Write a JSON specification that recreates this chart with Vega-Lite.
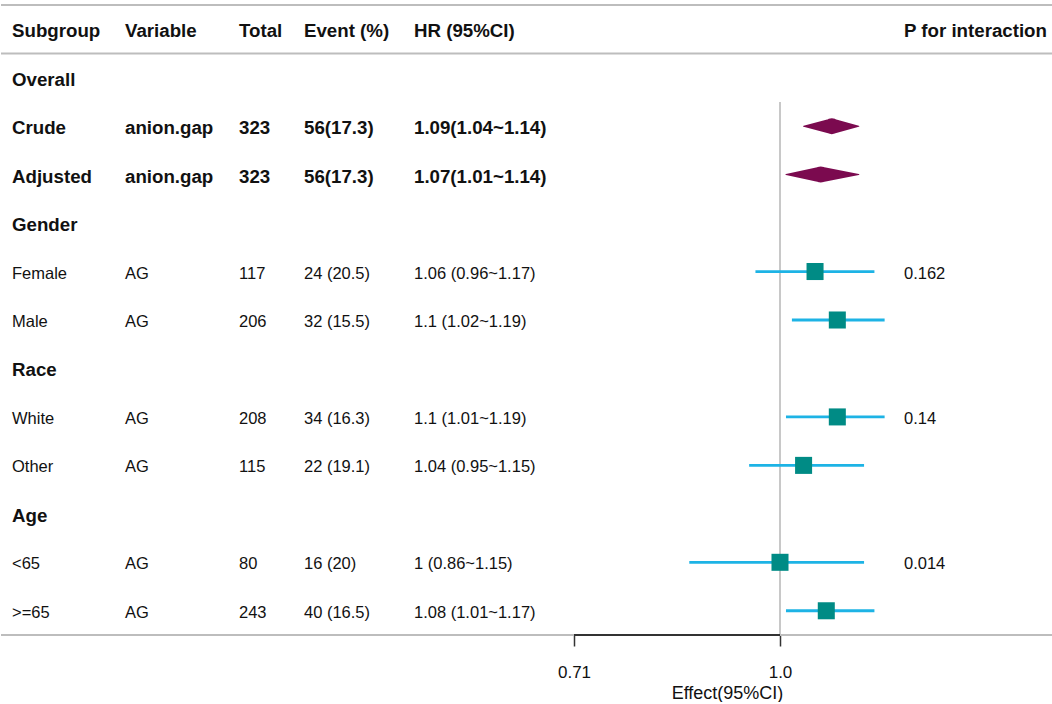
{
  "$schema": "https://vega.github.io/schema/vega-lite/v6.json",
  "padding": {"left": 0, "top": 4, "right": 0, "bottom": 0},
  "spacing": 0,
  "bounds": "flush",
  "background": "white",
  "config": {"view": {"stroke": null}, "font": "Liberation Sans"},
  "data": {"values": [
    {"Subgroup": "Subgroup", "Variable": "Variable", "Total": "Total", "Event": "Event (%)", "HR": "HR (95%CI)", "P": "P for interaction", "kind": "header"},
    {"Subgroup": "Overall", "kind": "group"},
    {"Subgroup": "Crude", "Variable": "anion.gap", "Total": 323, "Event": "56(17.3)", "HR": "1.09(1.04~1.14)", "hr": 1.09, "lo": 1.04, "hi": 1.14, "kind": "overall"},
    {"Subgroup": "Adjusted", "Variable": "anion.gap", "Total": 323, "Event": "56(17.3)", "HR": "1.07(1.01~1.14)", "hr": 1.07, "lo": 1.01, "hi": 1.14, "kind": "overall"},
    {"Subgroup": "Gender", "kind": "group"},
    {"Subgroup": "Female", "Variable": "AG", "Total": 117, "Event": "24 (20.5)", "HR": "1.06 (0.96~1.17)", "hr": 1.06, "lo": 0.96, "hi": 1.17, "P": "0.162", "kind": "sub"},
    {"Subgroup": "Male", "Variable": "AG", "Total": 206, "Event": "32 (15.5)", "HR": "1.1 (1.02~1.19)", "hr": 1.1, "lo": 1.02, "hi": 1.19, "kind": "sub"},
    {"Subgroup": "Race", "kind": "group"},
    {"Subgroup": "White", "Variable": "AG", "Total": 208, "Event": "34 (16.3)", "HR": "1.1 (1.01~1.19)", "hr": 1.1, "lo": 1.01, "hi": 1.19, "P": "0.14", "kind": "sub"},
    {"Subgroup": "Other", "Variable": "AG", "Total": 115, "Event": "22 (19.1)", "HR": "1.04 (0.95~1.15)", "hr": 1.04, "lo": 0.95, "hi": 1.15, "kind": "sub"},
    {"Subgroup": "Age", "kind": "group"},
    {"Subgroup": "<65", "Variable": "AG", "Total": 80, "Event": "16 (20)", "HR": "1 (0.86~1.15)", "hr": 1, "lo": 0.86, "hi": 1.15, "P": "0.014", "kind": "sub"},
    {"Subgroup": ">=65", "Variable": "AG", "Total": 243, "Event": "40 (16.5)", "HR": "1.08 (1.01~1.17)", "hr": 1.08, "lo": 1.01, "hi": 1.17, "kind": "sub"}
  ]},
  "hconcat": [
    {
      "width": 113, "height": 630,
      "layer": [
        {"transform": [{"filter": "datum.kind === 'header'"}], "mark": {"type": "rule", "color": "#BDBDBD", "strokeWidth": 2}, "encoding": {"y": {"field": "Subgroup", "type": "nominal", "bandPosition": 0, "scale": {"type": "band", "domain": ["Subgroup","Overall","Crude","Adjusted","Gender","Female","Male","Race","White","Other","Age","<65",">=65"], "paddingInner": 0, "paddingOuter": 0}, "axis": null}}},
        {"transform": [{"filter": "datum.kind === 'header'"}], "mark": {"type": "rule", "color": "#BDBDBD", "strokeWidth": 2}, "encoding": {"y": {"field": "Subgroup", "type": "nominal", "bandPosition": 1, "axis": null}}},
        {"transform": [{"filter": "datum.Subgroup === '>=65'"}], "mark": {"type": "rule", "color": "#BDBDBD", "strokeWidth": 2}, "encoding": {"y": {"field": "Subgroup", "type": "nominal", "bandPosition": 1, "axis": null}}},
        {"transform": [{"filter": "isValid(datum.Subgroup) && datum.kind !== 'sub'"}], "mark": {"type": "text", "align": "left", "baseline": "middle", "dx": 11, "dy": 2, "color": "#111111", "fontWeight": "bold", "fontSize": 18.7},
          "encoding": {
            "x": {"datum": "c", "type": "nominal", "scale": {"type": "band", "paddingInner": 0, "paddingOuter": 0}, "bandPosition": 0, "axis": null},
            "y": {"field": "Subgroup", "type": "nominal", "axis": null},
            "text": {"field": "Subgroup", "type": "nominal"}
          }},
        {"transform": [{"filter": "isValid(datum.Subgroup) && datum.kind === 'sub'"}], "mark": {"type": "text", "align": "left", "baseline": "middle", "dx": 11, "dy": 2, "color": "#111111", "fontWeight": "normal", "fontSize": 16.5},
          "encoding": {
            "x": {"datum": "c", "type": "nominal", "bandPosition": 0, "axis": null},
            "y": {"field": "Subgroup", "type": "nominal", "axis": null},
            "text": {"field": "Subgroup", "type": "nominal"}
          }}
      ]
    },
    {
      "width": 114, "height": 630,
      "layer": [
        {"transform": [{"filter": "datum.kind === 'header'"}], "mark": {"type": "rule", "color": "#BDBDBD", "strokeWidth": 2}, "encoding": {"y": {"field": "Subgroup", "type": "nominal", "bandPosition": 0, "scale": {"type": "band", "domain": ["Subgroup","Overall","Crude","Adjusted","Gender","Female","Male","Race","White","Other","Age","<65",">=65"], "paddingInner": 0, "paddingOuter": 0}, "axis": null}}},
        {"transform": [{"filter": "datum.kind === 'header'"}], "mark": {"type": "rule", "color": "#BDBDBD", "strokeWidth": 2}, "encoding": {"y": {"field": "Subgroup", "type": "nominal", "bandPosition": 1, "axis": null}}},
        {"transform": [{"filter": "datum.Subgroup === '>=65'"}], "mark": {"type": "rule", "color": "#BDBDBD", "strokeWidth": 2}, "encoding": {"y": {"field": "Subgroup", "type": "nominal", "bandPosition": 1, "axis": null}}},
        {"transform": [{"filter": "isValid(datum.Variable) && datum.kind !== 'sub'"}], "mark": {"type": "text", "align": "left", "baseline": "middle", "dx": 11, "dy": 2, "color": "#111111", "fontWeight": "bold", "fontSize": 18.7},
          "encoding": {
            "x": {"datum": "c", "type": "nominal", "scale": {"type": "band", "paddingInner": 0, "paddingOuter": 0}, "bandPosition": 0, "axis": null},
            "y": {"field": "Subgroup", "type": "nominal", "axis": null},
            "text": {"field": "Variable", "type": "nominal"}
          }},
        {"transform": [{"filter": "isValid(datum.Variable) && datum.kind === 'sub'"}], "mark": {"type": "text", "align": "left", "baseline": "middle", "dx": 11, "dy": 2, "color": "#111111", "fontWeight": "normal", "fontSize": 16.5},
          "encoding": {
            "x": {"datum": "c", "type": "nominal", "bandPosition": 0, "axis": null},
            "y": {"field": "Subgroup", "type": "nominal", "axis": null},
            "text": {"field": "Variable", "type": "nominal"}
          }}
      ]
    },
    {
      "width": 65, "height": 630,
      "layer": [
        {"transform": [{"filter": "datum.kind === 'header'"}], "mark": {"type": "rule", "color": "#BDBDBD", "strokeWidth": 2}, "encoding": {"y": {"field": "Subgroup", "type": "nominal", "bandPosition": 0, "scale": {"type": "band", "domain": ["Subgroup","Overall","Crude","Adjusted","Gender","Female","Male","Race","White","Other","Age","<65",">=65"], "paddingInner": 0, "paddingOuter": 0}, "axis": null}}},
        {"transform": [{"filter": "datum.kind === 'header'"}], "mark": {"type": "rule", "color": "#BDBDBD", "strokeWidth": 2}, "encoding": {"y": {"field": "Subgroup", "type": "nominal", "bandPosition": 1, "axis": null}}},
        {"transform": [{"filter": "datum.Subgroup === '>=65'"}], "mark": {"type": "rule", "color": "#BDBDBD", "strokeWidth": 2}, "encoding": {"y": {"field": "Subgroup", "type": "nominal", "bandPosition": 1, "axis": null}}},
        {"transform": [{"filter": "isValid(datum.Total) && datum.kind !== 'sub'"}], "mark": {"type": "text", "align": "left", "baseline": "middle", "dx": 11, "dy": 2, "color": "#111111", "fontWeight": "bold", "fontSize": 18.7},
          "encoding": {
            "x": {"datum": "c", "type": "nominal", "scale": {"type": "band", "paddingInner": 0, "paddingOuter": 0}, "bandPosition": 0, "axis": null},
            "y": {"field": "Subgroup", "type": "nominal", "axis": null},
            "text": {"field": "Total", "type": "nominal"}
          }},
        {"transform": [{"filter": "isValid(datum.Total) && datum.kind === 'sub'"}], "mark": {"type": "text", "align": "left", "baseline": "middle", "dx": 11, "dy": 2, "color": "#111111", "fontWeight": "normal", "fontSize": 16.5},
          "encoding": {
            "x": {"datum": "c", "type": "nominal", "bandPosition": 0, "axis": null},
            "y": {"field": "Subgroup", "type": "nominal", "axis": null},
            "text": {"field": "Total", "type": "nominal"}
          }}
      ]
    },
    {
      "width": 110, "height": 630,
      "layer": [
        {"transform": [{"filter": "datum.kind === 'header'"}], "mark": {"type": "rule", "color": "#BDBDBD", "strokeWidth": 2}, "encoding": {"y": {"field": "Subgroup", "type": "nominal", "bandPosition": 0, "scale": {"type": "band", "domain": ["Subgroup","Overall","Crude","Adjusted","Gender","Female","Male","Race","White","Other","Age","<65",">=65"], "paddingInner": 0, "paddingOuter": 0}, "axis": null}}},
        {"transform": [{"filter": "datum.kind === 'header'"}], "mark": {"type": "rule", "color": "#BDBDBD", "strokeWidth": 2}, "encoding": {"y": {"field": "Subgroup", "type": "nominal", "bandPosition": 1, "axis": null}}},
        {"transform": [{"filter": "datum.Subgroup === '>=65'"}], "mark": {"type": "rule", "color": "#BDBDBD", "strokeWidth": 2}, "encoding": {"y": {"field": "Subgroup", "type": "nominal", "bandPosition": 1, "axis": null}}},
        {"transform": [{"filter": "isValid(datum.Event) && datum.kind !== 'sub'"}], "mark": {"type": "text", "align": "left", "baseline": "middle", "dx": 11, "dy": 2, "color": "#111111", "fontWeight": "bold", "fontSize": 18.7},
          "encoding": {
            "x": {"datum": "c", "type": "nominal", "scale": {"type": "band", "paddingInner": 0, "paddingOuter": 0}, "bandPosition": 0, "axis": null},
            "y": {"field": "Subgroup", "type": "nominal", "axis": null},
            "text": {"field": "Event", "type": "nominal"}
          }},
        {"transform": [{"filter": "isValid(datum.Event) && datum.kind === 'sub'"}], "mark": {"type": "text", "align": "left", "baseline": "middle", "dx": 11, "dy": 2, "color": "#111111", "fontWeight": "normal", "fontSize": 16.5},
          "encoding": {
            "x": {"datum": "c", "type": "nominal", "bandPosition": 0, "axis": null},
            "y": {"field": "Subgroup", "type": "nominal", "axis": null},
            "text": {"field": "Event", "type": "nominal"}
          }}
      ]
    },
    {
      "width": 158, "height": 630,
      "layer": [
        {"transform": [{"filter": "datum.kind === 'header'"}], "mark": {"type": "rule", "color": "#BDBDBD", "strokeWidth": 2}, "encoding": {"y": {"field": "Subgroup", "type": "nominal", "bandPosition": 0, "scale": {"type": "band", "domain": ["Subgroup","Overall","Crude","Adjusted","Gender","Female","Male","Race","White","Other","Age","<65",">=65"], "paddingInner": 0, "paddingOuter": 0}, "axis": null}}},
        {"transform": [{"filter": "datum.kind === 'header'"}], "mark": {"type": "rule", "color": "#BDBDBD", "strokeWidth": 2}, "encoding": {"y": {"field": "Subgroup", "type": "nominal", "bandPosition": 1, "axis": null}}},
        {"transform": [{"filter": "datum.Subgroup === '>=65'"}], "mark": {"type": "rule", "color": "#BDBDBD", "strokeWidth": 2}, "encoding": {"y": {"field": "Subgroup", "type": "nominal", "bandPosition": 1, "axis": null}}},
        {"transform": [{"filter": "isValid(datum.HR) && datum.kind !== 'sub'"}], "mark": {"type": "text", "align": "left", "baseline": "middle", "dx": 11, "dy": 2, "color": "#111111", "fontWeight": "bold", "fontSize": 18.7},
          "encoding": {
            "x": {"datum": "c", "type": "nominal", "scale": {"type": "band", "paddingInner": 0, "paddingOuter": 0}, "bandPosition": 0, "axis": null},
            "y": {"field": "Subgroup", "type": "nominal", "axis": null},
            "text": {"field": "HR", "type": "nominal"}
          }},
        {"transform": [{"filter": "isValid(datum.HR) && datum.kind === 'sub'"}], "mark": {"type": "text", "align": "left", "baseline": "middle", "dx": 11, "dy": 2, "color": "#111111", "fontWeight": "normal", "fontSize": 16.5},
          "encoding": {
            "x": {"datum": "c", "type": "nominal", "bandPosition": 0, "axis": null},
            "y": {"field": "Subgroup", "type": "nominal", "axis": null},
            "text": {"field": "HR", "type": "nominal"}
          }}
      ]
    },
    {
      "width": 332, "height": 630,
      "layer": [
        {"transform": [{"filter": "datum.kind === 'header'"}], "mark": {"type": "rule", "color": "#BDBDBD", "strokeWidth": 2}, "encoding": {"y": {"field": "Subgroup", "type": "nominal", "bandPosition": 0, "scale": {"type": "band", "domain": ["Subgroup","Overall","Crude","Adjusted","Gender","Female","Male","Race","White","Other","Age","<65",">=65"], "paddingInner": 0, "paddingOuter": 0}, "axis": null}}},
        {"transform": [{"filter": "datum.kind === 'header'"}], "mark": {"type": "rule", "color": "#BDBDBD", "strokeWidth": 2}, "encoding": {"y": {"field": "Subgroup", "type": "nominal", "bandPosition": 1, "axis": null}}},
        {"transform": [{"filter": "datum.Subgroup === '>=65'"}], "mark": {"type": "rule", "color": "#BDBDBD", "strokeWidth": 2}, "encoding": {"y": {"field": "Subgroup", "type": "nominal", "bandPosition": 1, "axis": null}}},
        {"mark": {"type": "rule", "color": "#C8C8C8", "strokeWidth": 1.5},
          "encoding": {
            "x": {"datum": 1, "type": "quantitative", "scale": {"type": "log", "domain": [0.6948, 1.2067], "nice": false},
              "axis": {"values": [0.71, 1], "domain": false, "grid": false, "ticks": true, "tickSize": 11, "tickColor": "#333333", "tickWidth": 1.5, "labelFontSize": 17, "labelColor": "#111111", "labelPadding": 18, "labelFlush": false, "labelOverlap": false, "labelExpr": "datum.value == 1 ? '1.0' : format(datum.value, '.2f')", "title": "Effect(95%CI)", "titleFontSize": 18, "titleFontWeight": "normal", "titleColor": "#111111", "titlePadding": 4}},
            "y": {"datum": "Crude", "type": "nominal", "bandPosition": 0, "axis": null},
            "y2": {"datum": ">=65", "bandPosition": 1}
          }},
        {"transform": [{"filter": "datum.kind === 'sub'"}], "mark": {"type": "rule", "color": "#1DB3E5", "strokeWidth": 2.8},
          "encoding": {
            "x": {"field": "lo", "type": "quantitative",
              "axis": {"values": [0.71, 1], "domain": false, "grid": false, "ticks": true, "tickSize": 11, "tickColor": "#333333", "tickWidth": 1.5, "labelFontSize": 17, "labelColor": "#111111", "labelPadding": 18, "labelFlush": false, "labelOverlap": false, "labelExpr": "datum.value == 1 ? '1.0' : format(datum.value, '.2f')", "title": "Effect(95%CI)", "titleFontSize": 18, "titleFontWeight": "normal", "titleColor": "#111111", "titlePadding": 4}},
            "x2": {"field": "hi"},
            "y": {"field": "Subgroup", "type": "nominal", "axis": null}
          }},
        {"transform": [{"filter": "datum.kind === 'sub'"}], "mark": {"type": "point", "shape": "square", "filled": true, "size": 290, "color": "#008B85", "opacity": 1},
          "encoding": {
            "x": {"field": "hr", "type": "quantitative",
              "axis": {"values": [0.71, 1], "domain": false, "grid": false, "ticks": true, "tickSize": 11, "tickColor": "#333333", "tickWidth": 1.5, "labelFontSize": 17, "labelColor": "#111111", "labelPadding": 18, "labelFlush": false, "labelOverlap": false, "labelExpr": "datum.value == 1 ? '1.0' : format(datum.value, '.2f')", "title": "Effect(95%CI)", "titleFontSize": 18, "titleFontWeight": "normal", "titleColor": "#111111", "titlePadding": 4}},
            "y": {"field": "Subgroup", "type": "nominal", "axis": null}
          }},
        {"transform": [{"filter": "datum.kind === 'overall'"}, {"fold": ["lo", "hr", "hi"], "as": ["pt", "val"]}], "mark": {"type": "trail", "color": "#7B0A4F"},
          "encoding": {
            "x": {"field": "val", "type": "quantitative",
              "axis": {"values": [0.71, 1], "domain": false, "grid": false, "ticks": true, "tickSize": 11, "tickColor": "#333333", "tickWidth": 1.5, "labelFontSize": 17, "labelColor": "#111111", "labelPadding": 18, "labelFlush": false, "labelOverlap": false, "labelExpr": "datum.value == 1 ? '1.0' : format(datum.value, '.2f')", "title": "Effect(95%CI)", "titleFontSize": 18, "titleFontWeight": "normal", "titleColor": "#111111", "titlePadding": 4}},
            "y": {"field": "Subgroup", "type": "nominal", "axis": null},
            "detail": {"field": "Subgroup", "type": "nominal"},
            "order": {"field": "val", "type": "quantitative"},
            "size": {"condition": {"test": "datum.pt === 'hr'", "value": 16}, "value": 0}
          }},
        {"mark": {"type": "rule", "color": "#333333", "strokeWidth": 1.5},
          "encoding": {
            "x": {"datum": 0.71, "type": "quantitative",
              "axis": {"values": [0.71, 1], "domain": false, "grid": false, "ticks": true, "tickSize": 11, "tickColor": "#333333", "tickWidth": 1.5, "labelFontSize": 17, "labelColor": "#111111", "labelPadding": 18, "labelFlush": false, "labelOverlap": false, "labelExpr": "datum.value == 1 ? '1.0' : format(datum.value, '.2f')", "title": "Effect(95%CI)", "titleFontSize": 18, "titleFontWeight": "normal", "titleColor": "#111111", "titlePadding": 4}},
            "x2": {"datum": 1},
            "y": {"datum": ">=65", "type": "nominal", "bandPosition": 1, "axis": null}
          }}
      ]
    },
    {
      "width": 160, "height": 630,
      "layer": [
        {"transform": [{"filter": "datum.kind === 'header'"}], "mark": {"type": "rule", "color": "#BDBDBD", "strokeWidth": 2}, "encoding": {"y": {"field": "Subgroup", "type": "nominal", "bandPosition": 0, "scale": {"type": "band", "domain": ["Subgroup","Overall","Crude","Adjusted","Gender","Female","Male","Race","White","Other","Age","<65",">=65"], "paddingInner": 0, "paddingOuter": 0}, "axis": null}}},
        {"transform": [{"filter": "datum.kind === 'header'"}], "mark": {"type": "rule", "color": "#BDBDBD", "strokeWidth": 2}, "encoding": {"y": {"field": "Subgroup", "type": "nominal", "bandPosition": 1, "axis": null}}},
        {"transform": [{"filter": "datum.Subgroup === '>=65'"}], "mark": {"type": "rule", "color": "#BDBDBD", "strokeWidth": 2}, "encoding": {"y": {"field": "Subgroup", "type": "nominal", "bandPosition": 1, "axis": null}}},
        {"transform": [{"filter": "isValid(datum.P) && datum.kind !== 'sub'"}], "mark": {"type": "text", "align": "left", "baseline": "middle", "dx": 11, "dy": 2, "color": "#111111", "fontWeight": "bold", "fontSize": 18.7},
          "encoding": {
            "x": {"datum": "c", "type": "nominal", "scale": {"type": "band", "paddingInner": 0, "paddingOuter": 0}, "bandPosition": 0, "axis": null},
            "y": {"field": "Subgroup", "type": "nominal", "axis": null},
            "text": {"field": "P", "type": "nominal"}
          }},
        {"transform": [{"filter": "isValid(datum.P) && datum.kind === 'sub'"}], "mark": {"type": "text", "align": "left", "baseline": "middle", "dx": 11, "dy": 2, "color": "#111111", "fontWeight": "normal", "fontSize": 16.5},
          "encoding": {
            "x": {"datum": "c", "type": "nominal", "bandPosition": 0, "axis": null},
            "y": {"field": "Subgroup", "type": "nominal", "axis": null},
            "text": {"field": "P", "type": "nominal"}
          }}
      ]
    }
  ]
}
